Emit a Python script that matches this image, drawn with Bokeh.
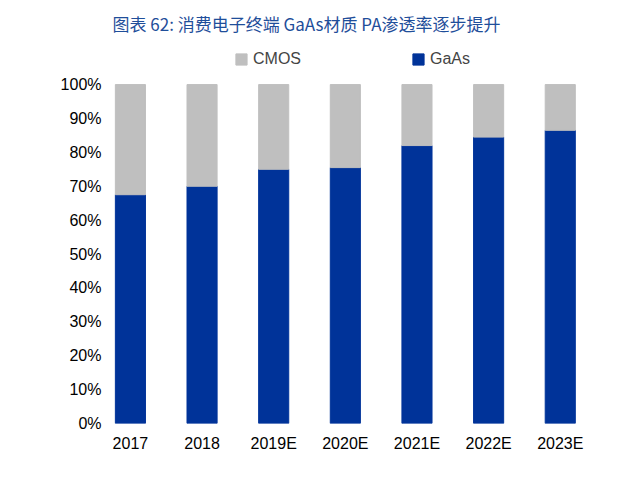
from bokeh.plotting import figure
from bokeh.models import ColumnDataSource, Legend, LegendItem, FixedTicker, NumeralTickFormatter, Range1d
from bokeh.embed import file_html
from bokeh.resources import INLINE

years = ["2017", "2018", "2019E", "2020E", "2021E", "2022E", "2023E"]
gaas = [0.675, 0.70, 0.75, 0.755, 0.82, 0.845, 0.865]
x = list(range(len(years)))

src = ColumnDataSource(dict(x=x, gaas=gaas, top=[1.0]*len(x)))

p = figure(width=624, height=471, output_backend="svg", toolbar_location=None,
           x_range=Range1d(-0.25, 6.45), y_range=Range1d(0, 1.13),
           min_border_left=112, min_border_right=32, min_border_bottom=48, min_border_top=40)
p.title.text = "图表 62:  消费电子终端 GaAs材质 PA渗透率逐步提升"
p.title.text_font = "Noto Sans CJK SC"
p.title.text_font_size = "17px"
p.title.text_font_style = "normal"
p.title.text_color = "#1f4e9a"

r_g = p.vbar(x="x", top="gaas", bottom=0, width=0.42, source=src, color="#003399")
r_c = p.vbar(x="x", top="top", bottom="gaas", width=0.42, source=src, color="#bfbfbf")

legend = Legend(items=[LegendItem(label="CMOS", renderers=[r_c]), LegendItem(label="GaAs", renderers=[r_g])],
                orientation="horizontal", location="top_center", spacing=110,
                label_text_font="Liberation Sans", label_text_font_size="16px",
                border_line_color=None, background_fill_alpha=0, glyph_width=14, glyph_height=14)
p.add_layout(legend)

p.xaxis.ticker = FixedTicker(ticks=x)
p.xaxis.major_label_overrides = {i: y for i, y in enumerate(years)}
p.yaxis.ticker = FixedTicker(ticks=[i/10 for i in range(11)])
p.yaxis.formatter = NumeralTickFormatter(format="0%")
for ax in (p.xaxis[0], p.yaxis[0]):
    ax.major_label_text_font = "Liberation Sans"
    ax.major_label_text_font_size = "16px"
    ax.major_label_text_color = "#000000"
    ax.major_tick_line_color = None
    ax.minor_tick_line_color = None
    ax.axis_line_color = None
p.grid.visible = False
p.outline_line_color = None

open("out.html", "w").write(file_html(p, INLINE))
